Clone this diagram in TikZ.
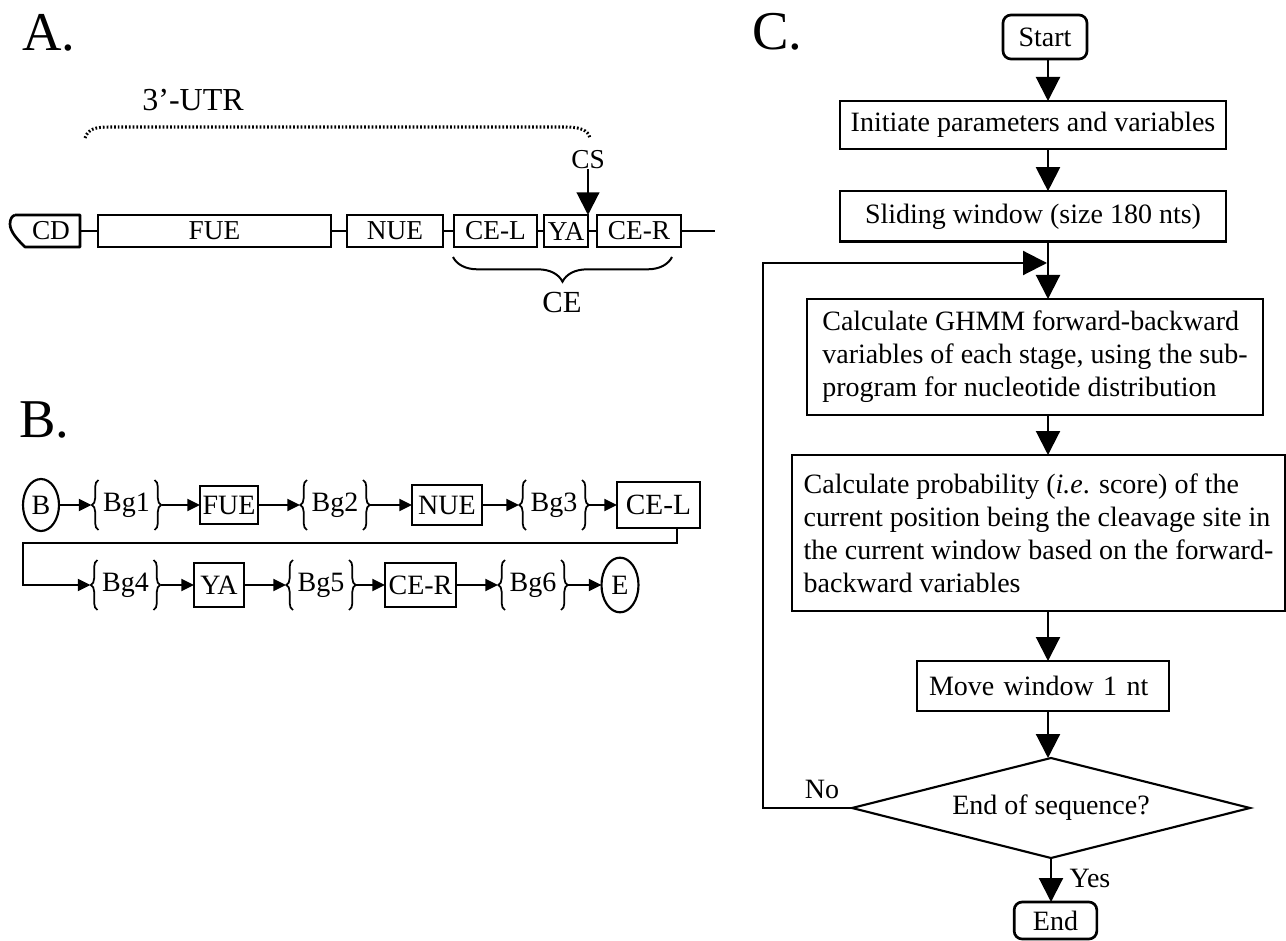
\documentclass[tikz,border=0pt]{standalone}
\usepackage{fontspec}
\setmainfont{Liberation Serif}
\usetikzlibrary{arrows.meta,shapes.geometric,decorations.pathreplacing}
\begin{document}
\begin{tikzpicture}[x=0.75pt,y=-0.75pt,
  every node/.style={font=\fontsize{21}{24.75}\selectfont, inner sep=0pt, outer sep=0pt},
  hdr/.style={font=\fontsize{41}{41}\selectfont},
  afont/.style={font=\fontsize{20.5}{24}\selectfont},
  abox/.style={draw, line width=2pt, minimum height=24pt, afont},
  aline/.style={line width=1.5pt},
  aarrow/.style={line width=1.6pt, -{Triangle[length=17pt,width=17pt]}},
  bbox/.style={draw, line width=1.6pt},
  bell/.style={draw, ellipse, line width=1.6pt},
  bbg/.style={minimum width=42pt, minimum height=37.5pt},
  bgbrace/.style={line width=1.3pt, decorate, decoration={brace, amplitude=5pt}},
  sarrow/.style={line width=1.6pt, -{Triangle[length=9.5pt,width=9pt]}},
  frombg/.style={shorten <=5.25pt},
  tobg/.style={shorten >=5.25pt},
  cbox/.style={draw, line width=2pt},
  cround/.style={draw, line width=2pt, rounded corners=6pt},
  bigarrow/.style={line width=1.6pt, -{Triangle[length=18pt,width=18pt]}}
]
\fill[white] (0,0) rectangle (1286,941);
\useasboundingbox (0,0) rectangle (1286,941);

% ---------- headers ----------
\node[hdr, anchor=base west] (hA) at (22,51) {A.};
\node[hdr, anchor=base west] (hB) at (19,437) {B.};
\node[hdr, anchor=base west] (hC) at (752,50) {C.};

% ---------- panel A ----------
\node[font=\fontsize{24}{28}\selectfont] (utr) at (193,100) {3’-UTR};
\draw[line width=2.3pt, dash pattern=on 1.3pt off 1.5pt]
  (85,138) .. controls (88,129) and (95,127) .. (110,127) -- (565,127)
  .. controls (580,127) and (588,130) .. (590,138);

\node[afont] (cd) at (51,231) {CD};
\draw[line width=2pt, line join=round] (15,215) -- (80,215) -- (80,247) -- (25,247)
  .. controls (18,240) and (10,232) .. (10,224) .. controls (10,219) and (12,216) .. (15,215);
\coordinate (cdR) at (80,231);
\node[abox, minimum width=174.75pt] (fue) at (214.5,231) {FUE};
\node[abox, minimum width=72pt] (nue) at (395,231) {NUE};
\node[abox, minimum width=62.25pt] (cel) at (495.5,231) {CE-L};
\node[abox, minimum width=33pt] (ya) at (566,231) {YA};
\node[abox, minimum width=63pt] (cer) at (639,231) {CE-R};
\coordinate (aend) at (715,231);
\draw[aline] (cdR) -- (fue.west);
\draw[aline] (fue.east) -- (nue.west);
\draw[aline] (nue.east) -- (cel.west);
\draw[aline] (cel.east) -- (ya.west);
\draw[aline] (ya.east) -- (cer.west);
\draw[aline] (cer.east) -- (aend);

\node[afont] (cs) at (588,160) {CS};
\draw[aarrow] (cs.south) -- (ya.north east);

\draw[line width=1.5pt, decorate, decoration={brace, mirror, amplitude=18.5pt}] (453,257) -- (672,257);
\node[font=\fontsize{23}{27}\selectfont] (ce) at (562,302) {CE};

% ---------- panel B ----------
\node[bell, minimum width=27pt, minimum height=39pt] (b) at (41,505) {B};
\node[bbg] (bg1) at (126.5,505) {Bg1};
\node[bbox, minimum width=43.5pt, minimum height=28.5pt] (fueb) at (229,505) {FUE};
\node[bbg] (bg2) at (335,505) {Bg2};
\node[bbox, minimum width=52.5pt, minimum height=30pt] (nueb) at (447,505) {NUE};
\node[bbg] (bg3) at (554,505) {Bg3};
\node[bbox, minimum width=62.25pt, minimum height=35pt, font=\fontsize{22}{26}\selectfont] (celb) at (658.5,505) {CE-L};

\node[bbg] (bg4) at (125.5,585) {Bg4};
\node[bbox, minimum width=37.5pt, minimum height=33pt] (yab) at (219,585) {YA};
\node[bbg] (bg5) at (321,585) {Bg5};
\node[bbox, minimum width=53.25pt, minimum height=33pt] (cerb) at (420.5,585) {CE-R};
\node[bbg] (bg6) at (533,585) {Bg6};
\node[bell, minimum width=27.75pt, minimum height=41pt] (e) at (620,585) {E};

\foreach \n in {bg1,bg2,bg3,bg4,bg5,bg6} {
  \draw[bgbrace] (\n.south west) -- (\n.north west);
  \draw[bgbrace] (\n.north east) -- (\n.south east);
}

\draw[sarrow, tobg] (b.east) -- (bg1.west);
\draw[sarrow, frombg] (bg1.east) -- (fueb.west);
\draw[sarrow, tobg] (fueb.east) -- (bg2.west);
\draw[sarrow, frombg] (bg2.east) -- (nueb.west);
\draw[sarrow, tobg] (nueb.east) -- (bg3.west);
\draw[sarrow, frombg] (bg3.east) -- (celb.west);

\coordinate (turnR) at (677,543);
\coordinate (turnL) at (23,543);
\draw[sarrow, tobg] (celb.south -| turnR) -- (turnR) -- (turnL) |- (bg4.west);

\draw[sarrow, frombg] (bg4.east) -- (yab.west);
\draw[sarrow, tobg] (yab.east) -- (bg5.west);
\draw[sarrow, frombg] (bg5.east) -- (cerb.west);
\draw[sarrow, tobg] (cerb.east) -- (bg6.west);
\draw[sarrow, frombg] (bg6.east) -- (e.west);

% ---------- panel C ----------
\coordinate (ax) at (1048,0);
\node[cround, minimum width=63pt, minimum height=33pt] (start) at (1045,37) {Start};
\node[cbox, minimum width=289.5pt, minimum height=36pt] (init) at (1033,125) {Initiate parameters and variables};
\node[cbox, minimum width=289.5pt, minimum height=38pt] (slide) at (1033,216.5) {Sliding window (size 180 nts)};
\node[cbox, align=left, minimum width=342pt, minimum height=87pt] (ghmm) at (1035,357)
  {Calculate GHMM forward-backward\\variables of each stage, using the sub-\\program for nucleotide distribution};
\node[cbox, align=left, minimum width=370pt, minimum height=117pt] (prob) at (1038.5,533)
  {Calculate probability (\textit{i.e}. score) of the\\current position being the cleavage site in\\the current window based on the forward-\\backward variables};
\node[cbox, align=left, text width=171pt, inner xsep=9pt, minimum height=37.5pt] (move) at (1043,686) {Move window 1 nt};
\node[draw, diamond, aspect=4, line width=1.6pt, minimum width=298.5pt, minimum height=75pt] (dec) at (1051,808) {End of sequence?};
\node[cround, minimum width=62pt, minimum height=27.75pt] (end) at (1055.5,920.5) {End};

\draw[bigarrow] (start.south -| ax) -- (init.north -| ax);
\draw[bigarrow] (init.south -| ax) -- (slide.north -| ax);
\draw[bigarrow] (slide.south -| ax) -- (ghmm.north -| ax);
\draw[bigarrow] (ghmm.south -| ax) -- (prob.north -| ax);
\draw[bigarrow] (prob.south -| ax) -- (move.north -| ax);
\draw[bigarrow] (move.south -| ax) -- (dec.north -| ax);
\draw[bigarrow] (dec.south) -- (end.north -| dec.south);

\coordinate (loopx) at (763,0);
\coordinate (join) at (1047,263);
\draw[bigarrow] (dec.west) -- (dec.west -| loopx) |- (join);

\node (no) at (822,789) {No};
\node (yes) at (1090,878) {Yes};
\end{tikzpicture}
\end{document}
